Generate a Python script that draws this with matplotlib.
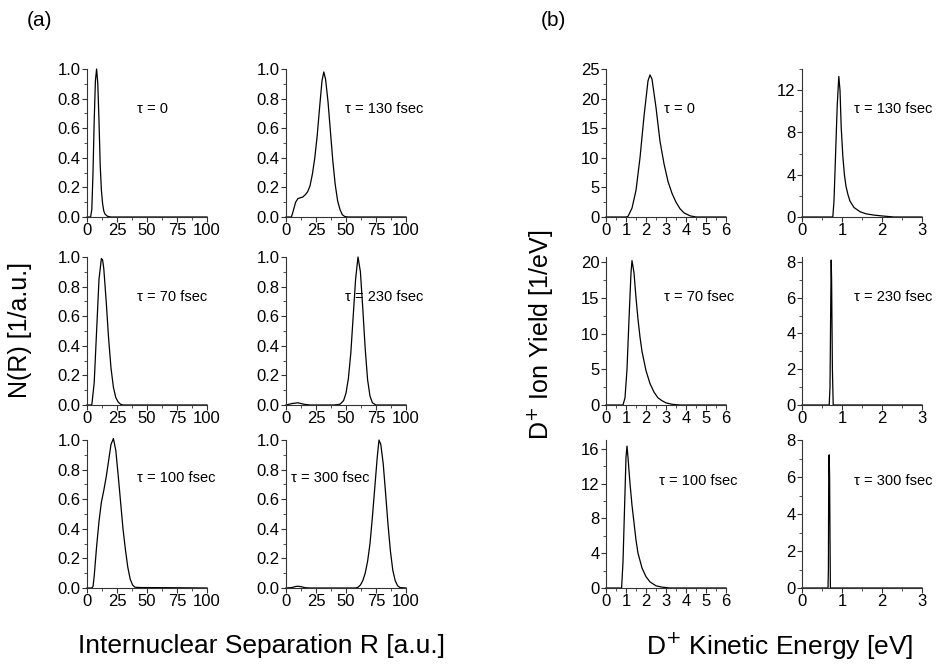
import numpy as np
import matplotlib
matplotlib.use('Agg')
import matplotlib.pyplot as plt
from matplotlib.ticker import MultipleLocator

plt.rcParams['font.family'] = ['Liberation Sans', 'DejaVu Sans']

# (a) internuclear distributions N(R)
r_t0 = [0, 3, 4, 5, 6, 7, 8, 9, 10, 11, 12, 13, 14, 15, 17, 20, 25, 100]
n_t0 = [0, 0, 0.05, 0.3, 0.65, 0.92, 1.0, 0.9, 0.65, 0.35, 0.18, 0.09, 0.04, 0.02, 0.005, 0, 0, 0]

r_t70 = [0, 4, 6, 8, 10, 12, 13, 14, 16, 18, 20, 22, 24, 26, 28, 30, 100]
n_t70 = [0, 0, 0.15, 0.5, 0.85, 0.99, 0.98, 0.92, 0.7, 0.45, 0.25, 0.12, 0.05, 0.02, 0.005, 0, 0]

r_t100 = [0, 4, 5, 6, 8, 10, 12, 14, 16, 18, 20, 22, 24, 26, 28, 30, 32, 34, 36, 38, 40, 45, 70, 100]
n_t100 = [0, 0, 0.01, 0.08, 0.28, 0.45, 0.58, 0.66, 0.75, 0.86, 0.97, 1.01, 0.93, 0.76, 0.58, 0.4,
          0.26, 0.14, 0.06, 0.02, 0.005, 0.003, 0.002, 0]

r_t130 = [0, 4.5, 6, 8, 10, 12, 14, 16, 18, 20, 22, 24, 26, 28, 30, 31.5, 33, 35, 37, 39, 41, 43,
          45, 47, 49, 52, 100]
n_t130 = [0, 0, 0.04, 0.1, 0.125, 0.13, 0.135, 0.15, 0.17, 0.21, 0.29, 0.4, 0.55, 0.74, 0.92, 0.98,
          0.93, 0.78, 0.58, 0.38, 0.22, 0.11, 0.05, 0.015, 0.003, 0, 0]

r_t230 = [0, 5, 10, 15, 20, 30, 40, 45, 48, 50, 52, 54, 56, 58, 60, 62, 64, 66, 68, 70, 72, 75, 100]
n_t230 = [0, 0.01, 0.015, 0.005, 0, 0, 0, 0.005, 0.03, 0.08, 0.18, 0.35, 0.6, 0.85, 1.0, 0.9, 0.65,
          0.38, 0.17, 0.06, 0.015, 0, 0]

r_t300 = [0, 5, 8, 10, 13, 16, 20, 40, 58, 60, 62, 64, 66, 68, 70, 72, 74, 76, 77.5, 79, 81, 83, 85,
          87, 89, 91, 93, 95, 100]
n_t300 = [0, 0.003, 0.01, 0.012, 0.008, 0.002, 0, 0, 0, 0.005, 0.02, 0.05, 0.1, 0.18, 0.3, 0.48,
          0.68, 0.88, 1.0, 0.97, 0.84, 0.64, 0.43, 0.25, 0.12, 0.05, 0.015, 0.003, 0]

# (b) D+ kinetic energy spectra
e_t0 = [0, 1.0, 1.1, 1.3, 1.5, 1.7, 1.9, 2.1, 2.2, 2.3, 2.5, 2.7, 2.9, 3.1, 3.3, 3.5, 3.7, 3.9, 4.2, 4.5, 6]
y_t0 = [0, 0, 0.1, 1.5, 4.5, 10, 17, 23, 24, 23.3, 18.5, 12.8, 9, 6, 4, 2.5, 1.4, 0.7, 0.2, 0, 0]

e_t70 = [0, 0.85, 0.95, 1.05, 1.15, 1.25, 1.3, 1.4, 1.5, 1.6, 1.7, 1.8, 2.0, 2.2, 2.4, 2.6, 2.8, 3.0,
         3.3, 3.7, 6]
y_t70 = [0, 0, 1, 5, 12, 18.5, 20.2, 18.5, 15, 12, 9.5, 7.5, 4.8, 3, 1.8, 1, 0.6, 0.3, 0.1, 0, 0]

e_t100 = [0, 0.78, 0.85, 0.9, 0.95, 1.0, 1.05, 1.1, 1.2, 1.3, 1.4, 1.5, 1.6, 1.8, 2.0, 2.2, 2.5, 2.8,
          3.2, 6]
y_t100 = [0, 0, 3, 7, 11, 15, 16.3, 15, 12, 9.5, 7.5, 5.5, 4, 2.3, 1.3, 0.7, 0.25, 0.1, 0, 0]

e_t130 = [0, 0.77, 0.8, 0.84, 0.88, 0.92, 0.95, 0.98, 1.02, 1.06, 1.1, 1.15, 1.2, 1.3, 1.45, 1.6,
          1.8, 2.0, 2.3, 3]
y_t130 = [0, 0, 1.5, 6, 10.5, 13.3, 12, 8.5, 5.8, 4, 2.9, 2.1, 1.5, 0.9, 0.5, 0.3, 0.18, 0.1, 0, 0]

e_t230 = [0, 0.68, 0.7, 0.72, 0.73, 0.74, 0.76, 0.78, 3]
y_t230 = [0, 0, 1, 6, 8.1, 7, 2, 0, 0]

e_t300 = [0, 0.65, 0.66, 0.67, 0.68, 0.69, 0.7, 0.71, 3]
y_t300 = [0, 0, 1, 7, 7.2, 6, 2.8, 0, 0]

labels = ['τ = 0', 'τ = 130 fsec', 'τ = 70 fsec', 'τ = 230 fsec', 'τ = 100 fsec', 'τ = 300 fsec']

W, H = 951, 664
fig = plt.figure(figsize=(W / 100, H / 100), dpi=100)

col_x = [87, 286, 606, 802]
row_bottom = [217, 405, 588]
ax_w, ax_h = 120, 148


def make_ax(col, row):
    x0 = col_x[col]
    y0 = row_bottom[row]
    ax = fig.add_axes([x0 / W, 1 - y0 / H, ax_w / W, ax_h / H])
    for s in ['top', 'right']:
        ax.spines[s].set_visible(False)
    for s in ['left', 'bottom']:
        ax.spines[s].set_linewidth(0.8)
        ax.spines[s].set_color('#333333')
    ax.tick_params(which='major', direction='out', length=3.5, width=0.8, pad=1,
                   labelsize=12, color='#333333')
    ax.tick_params(which='minor', direction='out', length=2, width=0.6, color='#333333')
    return ax


# left group
left_data = [(r_t0, n_t0), (r_t130, n_t130), (r_t70, n_t70),
             (r_t230, n_t230), (r_t100, n_t100), (r_t300, n_t300)]
left_txt = [(0.42, 0.73), (0.49, 0.73), (0.42, 0.73), (0.49, 0.73), (0.42, 0.74), (0.04, 0.74)]
for i, (xs, ys) in enumerate(left_data):
    ax = make_ax(i % 2, i // 2)
    ax.plot(xs, ys, color='black', lw=0.9, clip_on=False)
    ax.set_xlim(0, 100)
    ax.set_ylim(0, 1.0)
    ax.set_xticks([0, 25, 50, 75, 100])
    ax.set_yticks([0, 0.2, 0.4, 0.6, 0.8, 1.0])
    ax.set_yticklabels(['0.0', '0.2', '0.4', '0.6', '0.8', '1.0'])
    ax.xaxis.set_minor_locator(MultipleLocator(12.5))
    ax.yaxis.set_minor_locator(MultipleLocator(0.1))
    ax.text(left_txt[i][0], left_txt[i][1], labels[i], transform=ax.transAxes,
            fontsize=10.5, ha='left', va='center')

# right group
right_data = [(e_t0, y_t0), (e_t130, y_t130), (e_t70, y_t70),
              (e_t230, y_t230), (e_t100, y_t100), (e_t300, y_t300)]
right_xlim = [6, 3, 6, 3, 6, 3]
right_ylim = [25, 14, 20.7, 8.27, 17, 8]
right_yt = [[0, 5, 10, 15, 20, 25], [0, 4, 8, 12], [0, 5, 10, 15, 20],
            [0, 2, 4, 6, 8], [0, 4, 8, 12, 16], [0, 2, 4, 6, 8]]
right_ym = [2.5, 2, 2.5, 1, 2, 1]
right_txt = [(0.48, 0.73), (0.43, 0.73), (0.48, 0.73), (0.43, 0.73), (0.44, 0.72), (0.43, 0.72)]
for i, (xs, ys) in enumerate(right_data):
    ax = make_ax(2 + i % 2, i // 2)
    ax.plot(xs, ys, color='black', lw=0.9, clip_on=False)
    ax.set_xlim(0, right_xlim[i])
    ax.set_ylim(0, right_ylim[i])
    ax.set_xticks(range(right_xlim[i] + 1))
    ax.set_yticks(right_yt[i])
    ax.xaxis.set_minor_locator(MultipleLocator(0.5))
    ax.yaxis.set_minor_locator(MultipleLocator(right_ym[i]))
    ax.text(right_txt[i][0], right_txt[i][1], labels[i], transform=ax.transAxes,
            fontsize=10.5, ha='left', va='center')

fig.text(40 / W, 1 - 21 / H, '(a)', fontsize=15, ha='center', va='center')
fig.text(553 / W, 1 - 21 / H, '(b)', fontsize=15, ha='center', va='center')
fig.text(20 / W, 1 - 330 / H, 'N(R) [1/a.u.]', fontsize=18, rotation=90, ha='center', va='center')
fig.text(540 / W, 1 - 335 / H, 'D$^{+}$ Ion Yield [1/eV]', fontsize=18, rotation=90,
         ha='center', va='center')
fig.text(261 / W, 1 - 646 / H, 'Internuclear Separation R [a.u.]', fontsize=19,
         ha='center', va='center')
fig.text(780 / W, 1 - 646 / H, 'D$^{+}$ Kinetic Energy [eV]', fontsize=19,
         ha='center', va='center')

fig.savefig('out.png', dpi=100)
